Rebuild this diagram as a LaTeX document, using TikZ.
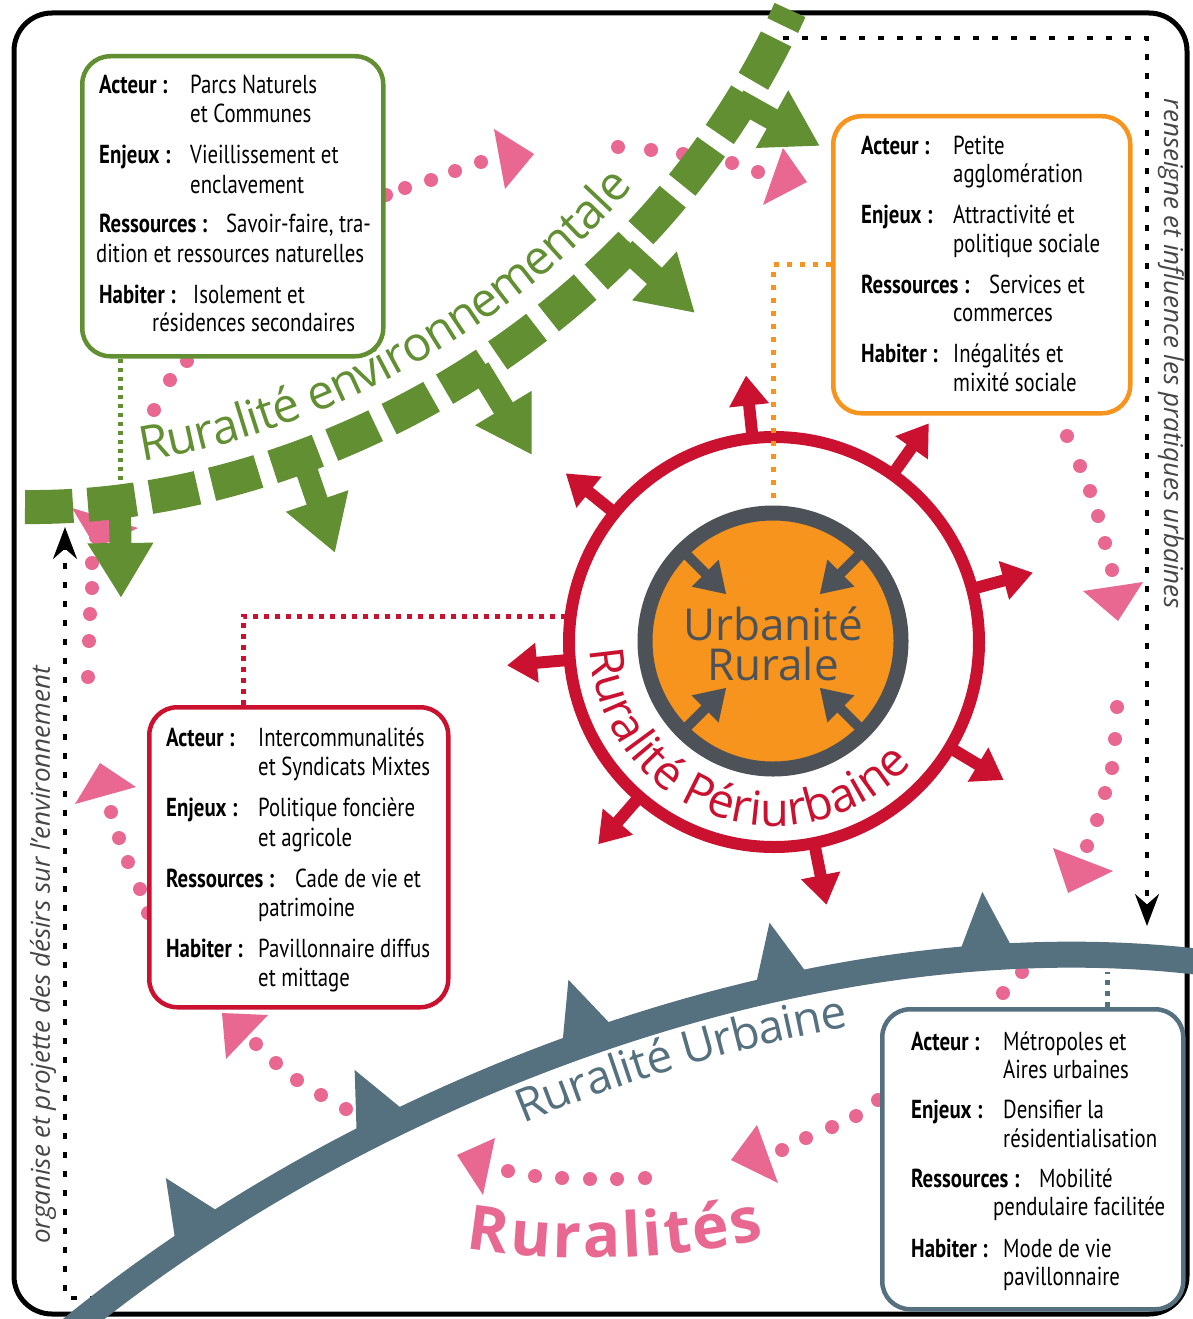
\documentclass[tikz,border=0pt]{standalone}
\usepackage{fontspec}
\setmainfont{Open Sans}
\newfontfamily\boxfont[FakeStretch=0.8]{PT Sans}
\usetikzlibrary{calc,arrows.meta,decorations.text}
\definecolor{greenc}{RGB}{97,143,50}
\definecolor{orangec}{RGB}{247,148,30}
\definecolor{redc}{RGB}{202,18,48}
\definecolor{grayc}{RGB}{77,82,88}
\definecolor{slatec}{RGB}{85,112,127}
\definecolor{pinkc}{RGB}{232,104,146}
\definecolor{sidec}{RGB}{70,70,70}
\newcommand\bigtxt{\fontsize{44}{44}\selectfont}
\newcommand\greentxt{\fontsize{48}{48}\selectfont}
\newcommand\ringtxt{\fontsize{47}{47}\selectfont}
\newcommand\urbtxt{\fontsize{46}{46}\selectfont}
\newcommand\ruraltxt{\fontsize{62}{62}\selectfont\bfseries}
\newcommand\boxtxt{\boxfont\fontsize{26}{29}\selectfont}
\tikzset{
  bx/.style={line width=4.5pt, rounded corners=28pt, fill=white, inner sep=0pt, anchor=north west},
  bt/.style={anchor=base west, inner sep=0pt, font=\boxtxt},
  sidetext/.style={font=\fontsize{26}{26}\selectfont\itshape, text=sidec, inner sep=0pt},
  blackdot/.style={line width=3.5pt, dash pattern=on 6pt off 13pt, -{Stealth[length=32pt,width=24pt]}},
  greendot/.style={greenc, line width=5pt, dash pattern=on 4pt off 5pt},
  orangedot/.style={orangec, line width=5pt, dash pattern=on 5pt off 8pt},
  reddot/.style={redc, line width=5pt, dash pattern=on 5pt off 6pt},
  bluedot/.style={slatec, line width=5pt, dash pattern=on 5pt off 6pt},
  greenarr/.style={greenc, line width=22pt, -{Triangle[length=55pt,width=62pt]}},
  redarr/.style={redc, line width=12pt, -{Triangle[length=30pt,width=38pt]}},
  grayarr/.style={grayc, line width=10pt, -{Triangle[length=30pt,width=36pt]}},
  pinktri/.style={fill=pinkc}
}
\begin{document}
\begin{tikzpicture}[x=1pt,y=-1pt]
\useasboundingbox (0,0) rectangle (1193,1319);
\fill[white] (0,0) rectangle (1193,1319);

% frame
\draw[line width=5pt, rounded corners=38pt] (14,13) rectangle (1187,1314);

% black dotted connectors
\coordinate (tl) at (783,38);
\coordinate (arrR) at (1147,926);
\coordinate (bl) at (96,1298);
\coordinate (arrL) at (65,527);
\draw[blackdot] (tl) -| (arrR);
\draw[blackdot] (bl) -| (arrL);

% side texts
\node[sidetext, rotate=90] (lt) at (43,955) {organise et projette des désirs sur l’environnement};
\node[sidetext, rotate=-90] (rt) at (1171,354) {renseigne et influence les pratiques urbaines};

% pink dotted arrows
\foreach \p in {(386,195),(405,188),(431,180),(455,171),(481,162),
  (618,147),(651,150),(683,154),(732,163),(758,172),
  (1067,436),(1080,466),(1090,491),(1098,516),(1105,543),(1112,570),
  (1117,707),(1115,739),(1112,768),(1105,793),(1097,820),(1087,846),
  (1003,993),(1022,972),
  (878,1100),(856,1116),(832,1127),(806,1138),(782,1150),
  (645,1178),(617,1179),(590,1179),(562,1178),(535,1176),(508,1171),
  (346,1109),(321,1095),(297,1080),(276,1063),(256,1044),
  (148,913),(140,889),(128,862),(119,838),(111,812),
  (96,537),(92,563),(92,588),(90,614),(89,641),(88,677),
  (187,361),(170,380),(154,410)}
  \fill[pinkc] \p circle (7);
\fill[pinktri] (494,129) -- (534,154) -- (505,189) -- cycle;
\fill[pinktri] (783,148) -- (807,182) -- (763,205) -- cycle;
\fill[pinktri] (1083,591) -- (1143,582) -- (1118,621) -- cycle;
\fill[pinktri] (1053,848) -- (1113,871) -- (1068,893) -- cycle;
\fill[pinktri] (757,1125) -- (778,1183) -- (731,1160) -- cycle;
\fill[pinktri] (457,1155) -- (495,1138) -- (483,1195) -- cycle;
\fill[pinktri] (222,1013) -- (268,1015) -- (226,1059) -- cycle;
\fill[pinktri] (75,804) -- (100,763) -- (136,787) -- cycle;
\fill[pinktri] (72,508) -- (138,528) -- (96,548) -- cycle;

% Ruralités
\path[decorate, decoration={text along path, text align={fit to path}, text color=pinkc,
  text={|\ruraltxt|Ruralités}}] (466,1248) .. controls (560,1264) and (680,1260) .. (764,1238);

% blue curve (Ruralité Urbaine)
\coordinate (b0) at (70,1330);
\coordinate (b1) at (350,1100);
\coordinate (b2) at (800,915);
\coordinate (b3) at (1200,962);
\draw[slatec, line width=26pt] (b0) .. controls (b1) and (b2) .. (b3);
\path (b0) .. controls (b1) and (b2) .. (b3)
  coordinate[pos=0.145] (ta1) coordinate[pos=0.155] (tb1)
  coordinate[pos=0.32] (ta2) coordinate[pos=0.33] (tb2)
  coordinate[pos=0.5] (ta3) coordinate[pos=0.51] (tb3)
  coordinate[pos=0.66] (ta4) coordinate[pos=0.67] (tb4)
  coordinate[pos=0.825] (ta5) coordinate[pos=0.835] (tb5);
\foreach \i in {1,...,5}
  \fill[slatec] ($(ta\i)!-30pt!(tb\i)$) -- ($(ta\i)!30pt!(tb\i)$) -- ($(ta\i)!66pt!90:(tb\i)$) -- cycle;
\path[decorate, decoration={text along path, raise=-52pt, text align={left indent=505pt},
  text color=slatec, text={|\urbtxt|Ruralité Urbaine}}] (b0) .. controls (b1) and (b2) .. (b3);

% green curve (Ruralité environnementale)
\coordinate (g0) at (25,507);
\coordinate (g1) at (300,510);
\coordinate (g2) at (640,340);
\coordinate (g3) at (790,10);
\draw[greenc, line width=34pt, dash pattern=on 48pt off 15pt] (g0) .. controls (g1) and (g2) .. (g3);
\coordinate (ga1) at (120,506); \coordinate (gt1) at (121,598);
\coordinate (ga2) at (303,460); \coordinate (gt2) at (335,553);
\coordinate (ga3) at (479,368); \coordinate (gt3) at (532,455);
\coordinate (ga4) at (625,249); \coordinate (gt4) at (695,313);
\coordinate (ga5) at (738,100); \coordinate (gt5) at (820,146);
\foreach \i in {1,...,5} \draw[greenarr] (ga\i) -- (gt\i);
\path[decorate, decoration={text along path, raise=36pt, text align={left indent=125pt},
  text color=greenc, text={|\greentxt|Ruralité environnementale}}] (g0) .. controls (g1) and (g2) .. (g3);

% boxes
\node[bx, draw=greenc, minimum width=301pt, minimum height=300pt] (boxG) at (80,54) {};
\node[bx, draw=orangec, minimum width=297pt, minimum height=297pt] (boxO) at (831,114) {};
\node[bx, draw=redc, minimum width=299pt, minimum height=300pt] (boxR) at (147,705) {};
\node[bx, draw=slatec, minimum width=301pt, minimum height=300pt] (boxB) at (880,1007) {};

% green box text
\node[bt] (g1a) at (99,94) {\textbf{Acteur :}};
\node[bt] (g1b) at (190,94) {Parcs Naturels};
\node[bt] (g1c) at (190,123) {et Communes};
\node[bt] (g2a) at (99,164) {\textbf{Enjeux :}};
\node[bt] (g2b) at (190,164) {Vieillissement et};
\node[bt] (g2c) at (190,193) {enclavement};
\node[bt] (g3a) at (99,232) {\textbf{Ressources :}};
\node[bt] (g3b) at (226,232) {Savoir-faire, tra-};
\node[bt] (g3c) at (96,262) {dition et ressources naturelles};
\node[bt] (g4a) at (99,303) {\textbf{Habiter :}};
\node[bt] (g4b) at (193,303) {Isolement et};
\node[bt] (g4c) at (152,331) {résidences secondaires};

% orange box text
\node[bt] (o1a) at (861,154) {\textbf{Acteur :}};
\node[bt] (o1b) at (953,154) {Petite};
\node[bt] (o1c) at (953,182) {agglomération};
\node[bt] (o2a) at (861,223) {\textbf{Enjeux :}};
\node[bt] (o2b) at (953,223) {Attractivité et};
\node[bt] (o2c) at (953,252) {politique sociale};
\node[bt] (o3a) at (861,293) {\textbf{Ressources :}};
\node[bt] (o3b) at (989,293) {Services et};
\node[bt] (o3c) at (953,321) {commerces};
\node[bt] (o4a) at (861,362) {\textbf{Habiter :}};
\node[bt] (o4b) at (953,362) {Inégalités et};
\node[bt] (o4c) at (953,391) {mixité sociale};

% red box text
\node[bt] (r1a) at (166,746) {\textbf{Acteur :}};
\node[bt] (r1b) at (258,746) {Intercommunalités};
\node[bt] (r1c) at (258,775) {et Syndicats Mixtes};
\node[bt] (r2a) at (166,816) {\textbf{Enjeux :}};
\node[bt] (r2b) at (258,816) {Politique foncière};
\node[bt] (r2c) at (258,846) {et agricole};
\node[bt] (r3a) at (166,887) {\textbf{Ressources :}};
\node[bt] (r3b) at (295,887) {Cade de vie et};
\node[bt] (r3c) at (258,916) {patrimoine};
\node[bt] (r4a) at (166,957) {\textbf{Habiter :}};
\node[bt] (r4b) at (258,957) {Pavillonnaire diffus};
\node[bt] (r4c) at (258,986) {et mittage};

% blue box text
\node[bt] (s1a) at (911,1050) {\textbf{Acteur :}};
\node[bt] (s1b) at (1003,1050) {Métropoles et};
\node[bt] (s1c) at (1003,1078) {Aires urbaines};
\node[bt] (s2a) at (911,1118) {\textbf{Enjeux :}};
\node[bt] (s2b) at (1003,1118) {Densifier la};
\node[bt] (s2c) at (1003,1147) {résidentialisation};
\node[bt] (s3a) at (911,1187) {\textbf{Ressources :}};
\node[bt] (s3b) at (1039,1187) {Mobilité};
\node[bt] (s3c) at (993,1215) {pendulaire facilitée};
\node[bt] (s4a) at (911,1257) {\textbf{Habiter :}};
\node[bt] (s4b) at (1003,1257) {Mode de vie};
\node[bt] (s4c) at (1003,1285) {pavillonnaire};

% red ring and arrows
\node[circle, draw=redc, line width=12pt, minimum size=410pt, inner sep=0pt] (ring) at (774,642) {};
\foreach \a in {96,54.7,15,-31,-78.7,-131,185,141}
  \draw[redarr] ($(ring.center)+({-\a}:205)$) -- ($(ring.center)+({-\a}:268)$);
\path[decorate, decoration={text along path, text align=center, text color=redc,
  text={|\ringtxt|Ruralité Périurbaine}}] ($(ring.center)+(-175:184)$) arc[start angle=-175, end angle=-326, radius=184];

% central circle
\node[circle, draw=grayc, fill=orangec, line width=15pt, minimum size=256pt, inner sep=0pt] (ur) at (773,641) {};
\foreach \a in {45,135,225,315}
  \draw[grayarr] ($(ur.center)+({-\a}:128)$) -- ($(ur.center)+({-\a}:66)$);
\node[anchor=base, inner sep=0pt, font=\bigtxt, text=grayc] (u1) at (773,640) {Urbanité};
\node[anchor=base, inner sep=0pt, font=\bigtxt, text=grayc] (u2) at (773,680) {Rurale};

% coloured dotted connectors
\coordinate (gEnd) at (120,492);
\coordinate (bEnd) at (1107,972);
\draw[greendot] ([xshift=40pt]boxG.south west) -- (gEnd);
\draw[orangedot] (boxO.west) -| (ur.north);
\draw[reddot] ([xshift=96pt]boxR.north west) |- (ring.173);
\draw[bluedot] ([xshift=227pt]boxB.north west) -- (bEnd);
\end{tikzpicture}
\end{document}
